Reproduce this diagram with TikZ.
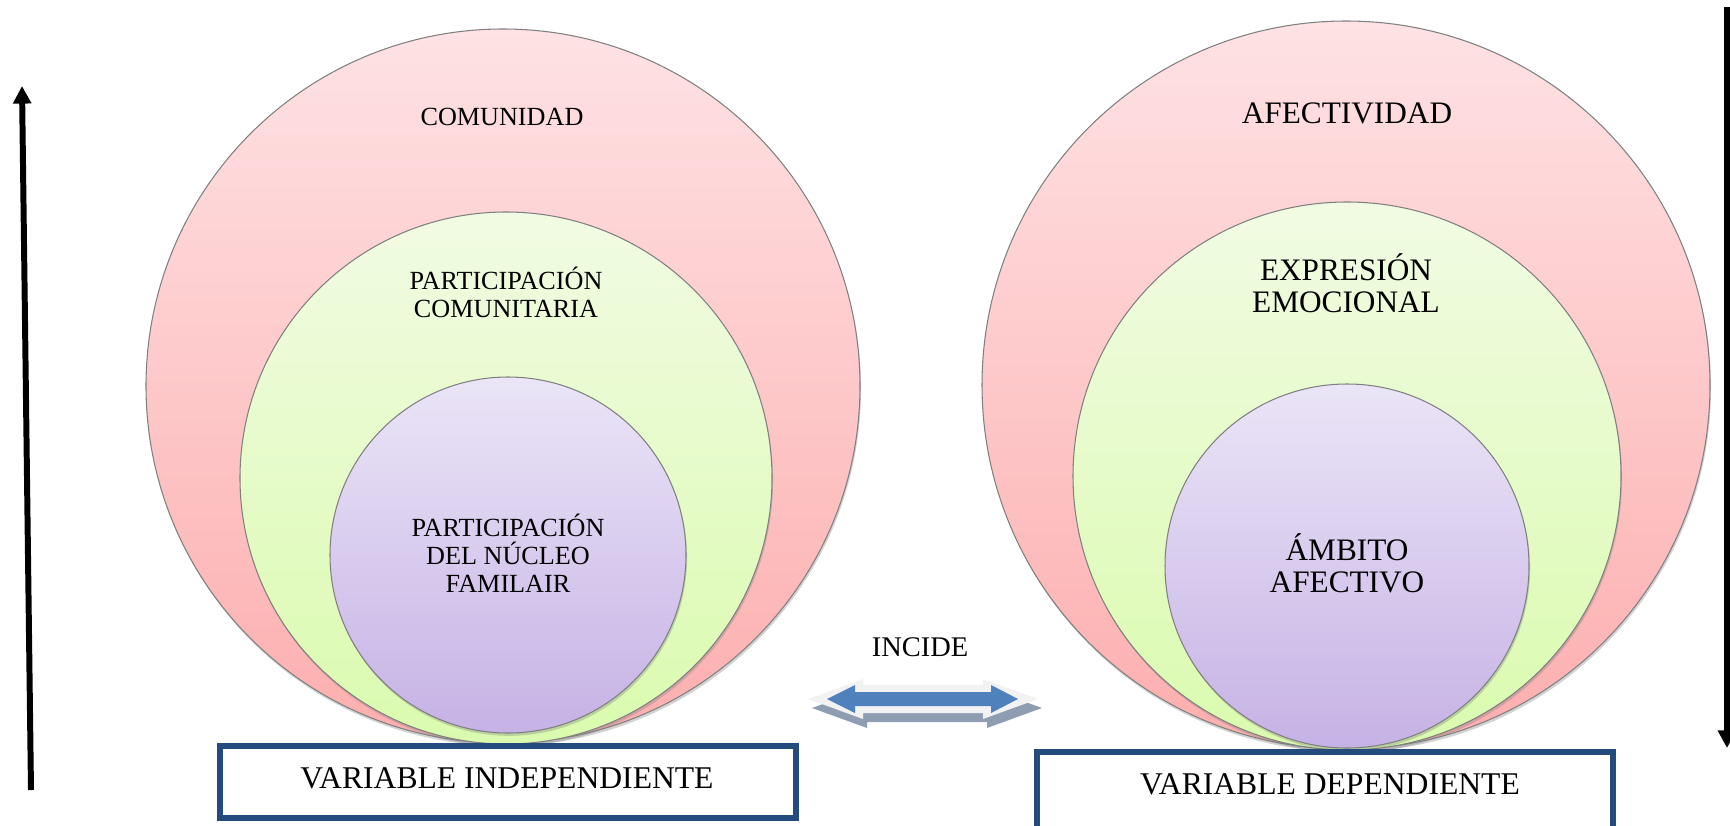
\documentclass[tikz,border=0pt]{standalone}
\usepackage{fontspec}
\setmainfont{Liberation Serif}
\usepackage{tikz}
\usetikzlibrary{arrows.meta,shadows}

\definecolor{rosaA}{HTML}{FEE2E4}
\definecolor{rosaB}{HTML}{FDAEAE}
\definecolor{verdeA}{HTML}{F1FBE3}
\definecolor{verdeB}{HTML}{DAFBAE}
\definecolor{lilaA}{HTML}{EBE5F7}
\definecolor{lilaB}{HTML}{C6B2E5}
\definecolor{azulcaja}{HTML}{244B7E}
\definecolor{azulflecha}{HTML}{4F81BD}
\definecolor{sombraflecha}{HTML}{8F9DB3}
\definecolor{marcoflecha}{HTML}{F2F2F2}

\begin{document}
\begin{tikzpicture}[x=0.02cm, y=-0.02cm,
	circulo/.style={draw=gray, line width=0.6pt, drop shadow={shadow xshift=0.6pt, shadow yshift=-1.6pt, opacity=0.35}},
	rosa/.style={circulo, top color=rosaA, bottom color=rosaB},
	verde/.style={circulo, top color=verdeA, bottom color=verdeB},
	lila/.style={circulo, top color=lilaA, bottom color=lilaB},
	txtizq/.style={align=center, inner sep=0pt, font=\fontsize{14.9}{15.9}\selectfont},
	txtder/.style={align=center, inner sep=0pt, font=\fontsize{17.8}{18.1}\selectfont},
	caja/.style={draw=azulcaja, line width=3.4pt, minimum width=11.54cm, minimum height=1.44cm},
	txtcaja/.style={inner sep=0pt, font=\fontsize{18}{20}\selectfont},
	eje/.style={line width=3.4pt, -{Triangle[length=10pt,width=10pt]}}]
		\useasboundingbox (0,0) rectangle (1730,825);
		%Ejes
		\coordinate (izqA) at (31,790);
		\coordinate (izqB) at (22,86);
		\coordinate (derA) at (1727,7);
		\coordinate (derB) at (1727,748);
		\draw [eje] (izqA) -- (izqB);
		\draw [eje] (derA) -- (derB);
		%Variable independiente
		\path [rosa] (503,386) circle [radius=357];
		\path [verde] (506,478) circle [radius=266];
		\path [lila] (508,555) circle [radius=178];
		\node [txtizq] (comunidad) at (502,117) {COMUNIDAD};
		\node [txtizq] (partcom) at (506,292) {PARTICIPACIÓN\\COMUNITARIA};
		\node [txtizq] (nucleo) at (508,553) {PARTICIPACIÓN\\DEL NÚCLEO\\FAMILAIR};
		%Variable dependiente
		\path [rosa] (1346,385) circle [radius=364];
		\path [verde] (1347,476) circle [radius=274];
		\path [lila] (1347,566) circle [radius=182];
		\node [txtder] (afect) at (1347,113) {AFECTIVIDAD};
		\node [txtder] (expr) at (1346,283) {EXPRESIÓN\\EMOCIONAL};
		\node [txtder] (ambito) at (1347,563) {ÁMBITO\\AFECTIVO};
		%Flecha doble
		\fill [sombraflecha, shift={(4,9)}] (808,699) -- (863,679) -- (863,685) -- (983,685) -- (983,679) -- (1038,699) -- (983,719) -- (983,713) -- (863,713) -- (863,719) -- cycle;
		\fill [marcoflecha] (808,699) -- (863,679) -- (863,685) -- (983,685) -- (983,679) -- (1038,699) -- (983,719) -- (983,713) -- (863,713) -- (863,719) -- cycle;
		\fill [azulflecha] (827,699) -- (855,685) -- (855,692) -- (991,692) -- (991,685) -- (1018,699) -- (991,713) -- (991,706) -- (855,706) -- (855,713) -- cycle;
		\node [inner sep=0pt, font=\fontsize{16.2}{18}\selectfont] (incide) at (920,647) {INCIDE};
		%Cajas
		\node [caja] (indep) at (508,782) {};
		\node [txtcaja] (indeptxt) at (507,778) {VARIABLE INDEPENDIENTE};
		\node [caja, minimum height=1.8cm] (dep) at (1325,797) {};
		\node [txtcaja] (deptxt) at (1330,784) {VARIABLE DEPENDIENTE};
	\end{tikzpicture}
\end{document}
